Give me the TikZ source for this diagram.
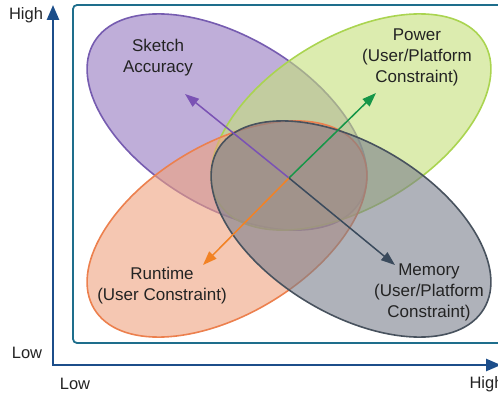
\documentclass[tikz,border=0pt]{standalone}
\usepackage{fontspec}
\setmainfont{Liberation Sans}
\usetikzlibrary{arrows.meta}
\definecolor{axisblue}{RGB}{28,78,138}
\definecolor{frameteal}{RGB}{30,110,140}
\definecolor{pfill}{RGB}{148,120,192}
\definecolor{pline}{RGB}{118,92,176}
\definecolor{gfill}{RGB}{196,224,122}
\definecolor{gline}{RGB}{170,212,80}
\definecolor{ofill}{RGB}{239,162,126}
\definecolor{oline}{RGB}{236,128,78}
\definecolor{mfill}{RGB}{122,127,140}
\definecolor{mline}{RGB}{72,82,94}
\definecolor{parrow}{RGB}{122,82,180}
\definecolor{garrow}{RGB}{22,150,72}
\definecolor{oarrow}{RGB}{242,130,36}
\definecolor{marrow}{RGB}{58,74,92}
\definecolor{txt}{RGB}{35,35,35}
\begin{document}
\begin{tikzpicture}[x=1pt,y=-1pt,
  axisline/.style={draw=axisblue,line width=2.5pt},
  frameline/.style={draw=frameteal,line width=1.8pt,rounded corners=4pt},
  blob/.style={line width=1.6pt,fill opacity=0.6},
  pointer/.style={line width=1.5pt,-{Triangle[length=14pt,width=10pt]}},
  lbl/.style={text=txt,align=center,font=\fontsize{17}{21}\selectfont},
  axlbl/.style={text=txt,font=\fontsize{16.5}{20}\selectfont}]
\useasboundingbox (0,0) rectangle (498,396);
% frame
\draw[frameline] (73,5) rectangle (512,343);
% axes
\draw[axisline,{Triangle[length=15pt,width=12pt]}-{Triangle[length=15pt,width=12pt]}] (53,5) -- (53,365) -- (501,365);
% ellipses
\draw[blob,draw=pline,fill=pfill,rotate around={-31:(227,122)}] (227,122) ellipse [x radius=155pt,y radius=85pt];
\draw[blob,draw=gline,fill=gfill,rotate around={31:(351,122)}] (351,122) ellipse [x radius=155pt,y radius=85pt];
\draw[blob,draw=oline,fill=ofill,rotate around={31:(227,229)}] (227,229) ellipse [x radius=155pt,y radius=85pt];
\draw[blob,draw=mline,fill=mfill,rotate around={-31:(351,229)}] (351,229) ellipse [x radius=155pt,y radius=85pt];
% arrows
\coordinate (c) at (289,178);
\coordinate (ptip) at (185,94);
\coordinate (gtip) at (376,93);
\coordinate (otip) at (203,265);
\coordinate (mtip) at (395,265);
\draw[pointer,draw=parrow,fill=parrow] (c) -- (ptip);
\draw[pointer,draw=garrow,fill=garrow] (c) -- (gtip);
\draw[pointer,draw=oarrow,fill=oarrow] (c) -- (otip);
\draw[pointer,draw=marrow,fill=marrow] (c) -- (mtip);
% labels
\node[lbl] (sketch) at (158,58) {Sketch\\Accuracy};
\node[lbl] (power) at (417,57) {Power\\(User/Platform\\Constraint)};
\node[lbl] (runtime) at (162,286) {Runtime\\(User Constraint)};
\node[lbl] (memory) at (429,292) {Memory\\(User/Platform\\Constraint)};
\node[axlbl] (yhigh) at (26,15) {High};
\node[axlbl] (ylow) at (27,353) {Low};
\node[axlbl] (xlow) at (75,384) {Low};
\node[axlbl,anchor=west] (xhigh) at (466,384) {High};
\end{tikzpicture}
\end{document}
